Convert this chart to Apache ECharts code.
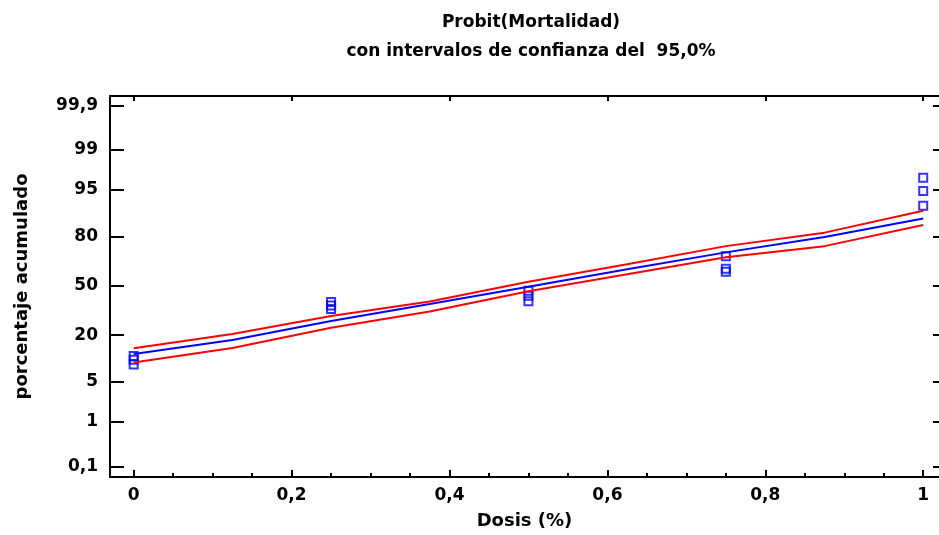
<!DOCTYPE html>
<html>
<head>
<meta charset="utf-8">
<script src="https://cdn.jsdelivr.net/npm/echarts@6/dist/echarts.min.js"></script>
<style>html,body{margin:0;padding:0;background:#fff}#c{width:939px;height:535px}</style>
</head>
<body>
<div id="c"></div>
<script>
// ---- data (percentages) ----
var doseGrid = [0, 0.125, 0.25, 0.375, 0.5, 0.625, 0.75, 0.875, 1];
var fitPct   = [12.2, 17.7, 27.4, 37.8, 49.4, 61.2, 71.7, 79.9, 87.6];
var upperPct = [14.3, 20.5, 30.3, 39.5, 52.9, 64.4, 75.2, 81.9, 90.1];
var lowerPct = [9.5, 14.4, 23.7, 33.1, 46.4, 57.9, 68.8, 75.2, 85.1];

var obsDose = [0, 0, 0, 0.25, 0.25, 0.25, 0.5, 0.5, 0.5, 0.75, 0.75, 0.75, 1, 1, 1];
var obsPct  = [11.5, 10.3, 8.9, 39.1, 36.8, 34.6, 46.7, 43.4, 39.7, 69.4, 61.5, 59.6, 96.8, 94.8, 91.5];

var yTickPct   = [0.1, 1, 5, 20, 50, 80, 95, 99, 99.9];
var yTickLabel = ['0,1', '1', '5', '20', '50', '80', '95', '99', '99,9'];
var xTicks     = [0, 0.2, 0.4, 0.6, 0.8, 1];
var xTickLabel = ['0', '0,2', '0,4', '0,6', '0,8', '1'];

// ---- probit scale (inverse normal CDF, Acklam) ----
function probit(pct) {
  var p = pct / 100;
  var a = [-3.969683028665376e+01, 2.209460984245205e+02, -2.759285104469687e+02, 1.383577518672690e+02, -3.066479806614716e+01, 2.506628277459239e+00];
  var b = [-5.447609879822406e+01, 1.615858368580409e+02, -1.556989798598866e+02, 6.680131188771972e+01, -1.328068155288572e+01];
  var c = [-7.784894002430293e-03, -3.223964580411365e-01, -2.400758277161838e+00, -2.549732539343734e+00, 4.374664141464968e+00, 2.938163982698783e+00];
  var d = [7.784695709041462e-03, 3.224671290700398e-01, 2.445134137142996e+00, 3.754408661907416e+00];
  var pl = 0.02425, q, r;
  if (p < pl) {
    q = Math.sqrt(-2 * Math.log(p));
    return (((((c[0]*q+c[1])*q+c[2])*q+c[3])*q+c[4])*q+c[5]) / ((((d[0]*q+d[1])*q+d[2])*q+d[3])*q+1);
  } else if (p <= 1 - pl) {
    q = p - 0.5; r = q * q;
    return (((((a[0]*r+a[1])*r+a[2])*r+a[3])*r+a[4])*r+a[5])*q / (((((b[0]*r+b[1])*r+b[2])*r+b[3])*r+b[4])*r+1);
  } else {
    q = Math.sqrt(-2 * Math.log(1 - p));
    return -(((((c[0]*q+c[1])*q+c[2])*q+c[3])*q+c[4])*q+c[5]) / ((((d[0]*q+d[1])*q+d[2])*q+d[3])*q+1);
  }
}

function pairs(xs, ps) { return xs.map(function (x, i) { return [x, probit(ps[i])]; }); }

var yTickZ = yTickPct.map(probit);
var xMinor = [];
for (var k = 0; k <= 20; k++) xMinor.push(Math.round(k * 5) / 100);

function yLabel(v) {
  var best = 0, bd = Infinity;
  for (var i = 0; i < yTickZ.length; i++) { var dd = Math.abs(yTickZ[i] - v); if (dd < bd) { bd = dd; best = i; } }
  return yTickLabel[best];
}
function xLabel(v) {
  var best = 0, bd = Infinity;
  for (var i = 0; i < xTicks.length; i++) { var dd = Math.abs(xTicks[i] - v); if (dd < bd) { bd = dd; best = i; } }
  return xTickLabel[best];
}

var FONT = 'DejaVu Sans';
var chart = echarts.init(document.getElementById('c'), null, { renderer: 'canvas' });
chart.setOption({
  animation: false,
  backgroundColor: '#ffffff',
  title: {
    text: 'Probit(Mortalidad)\ncon intervalos de confianza del  95,0%',
    left: 526, top: 3, textAlign: 'center',
    textStyle: { fontFamily: FONT, fontWeight: 'bold', fontSize: 17, lineHeight: 29, color: '#000' }
  },
  grid: { left: 110, right: 0, top: 96, bottom: 56, containLabel: false },
  xAxis: [
    {
      type: 'value', position: 'bottom', min: -0.03, max: 1.02,
      name: 'Dosis (%)', nameLocation: 'middle', nameGap: 35,
      nameTextStyle: { fontFamily: FONT, fontWeight: 'bold', fontSize: 18, color: '#000' },
      axisLine: { show: true, onZero: false, lineStyle: { color: '#000', width: 2 } },
      axisTick: { show: true, inside: true, length: 7, lineStyle: { color: '#000', width: 2 }, customValues: xTicks },
      axisLabel: { show: true, margin: 10, customValues: xTicks, formatter: xLabel,
        fontFamily: FONT, fontWeight: 'bold', fontSize: 17, color: '#000' },
      splitLine: { show: false }
    },
    {
      type: 'value', position: 'bottom', min: -0.03, max: 1.02,
      axisLine: { show: false, onZero: false },
      axisTick: { show: true, inside: true, length: 4, lineStyle: { color: '#000', width: 2 }, customValues: xMinor },
      axisLabel: { show: false },
      splitLine: { show: false }
    },
    {
      type: 'value', position: 'top', min: -0.03, max: 1.02,
      axisLine: { show: true, onZero: false, lineStyle: { color: '#000', width: 2 } },
      axisTick: { show: true, inside: true, length: 5, lineStyle: { color: '#000', width: 2 }, customValues: xTicks },
      axisLabel: { show: false },
      splitLine: { show: false }
    }
  ],
  yAxis: [
    {
      type: 'value', position: 'left', min: -3.27, max: 3.25,
      name: 'porcentaje acumulado', nameLocation: 'middle', nameGap: 79, nameRotate: 90,
      nameTextStyle: { fontFamily: FONT, fontWeight: 'bold', fontSize: 18, color: '#000' },
      axisLine: { show: true, onZero: false, lineStyle: { color: '#000', width: 2 } },
      axisTick: { show: true, inside: true, length: 14, lineStyle: { color: '#000', width: 2 }, customValues: yTickZ },
      axisLabel: { show: true, margin: 12, customValues: yTickZ, formatter: yLabel,
        fontFamily: FONT, fontWeight: 'bold', fontSize: 17, color: '#000' },
      splitLine: { show: false }
    },
    {
      type: 'value', position: 'right', min: -3.27, max: 3.25,
      axisLine: { show: false, onZero: false },
      axisTick: { show: true, inside: true, length: 6, lineStyle: { color: '#000', width: 2 }, customValues: yTickZ },
      axisLabel: { show: false },
      splitLine: { show: false }
    }
  ],
  series: [
    { type: 'line', name: 'superior', data: pairs(doseGrid, upperPct), showSymbol: false, symbol: 'none',
      lineStyle: { color: '#ff0000', width: 2 }, xAxisIndex: 0, yAxisIndex: 0, silent: true },
    { type: 'line', name: 'inferior', data: pairs(doseGrid, lowerPct), showSymbol: false, symbol: 'none',
      lineStyle: { color: '#ff0000', width: 2 }, xAxisIndex: 0, yAxisIndex: 0, silent: true },
    { type: 'line', name: 'ajuste', data: pairs(doseGrid, fitPct), showSymbol: false, symbol: 'none',
      lineStyle: { color: '#0000ff', width: 2 }, xAxisIndex: 0, yAxisIndex: 0, silent: true },
    { type: 'scatter', name: 'observado', data: pairs(obsDose, obsPct), symbol: 'rect', symbolSize: 8,
      itemStyle: { color: 'rgba(255,255,255,0)', borderColor: '#0000ff', borderWidth: 2 },
      xAxisIndex: 0, yAxisIndex: 0, silent: true }
  ]
});
</script>
</body>
</html>
